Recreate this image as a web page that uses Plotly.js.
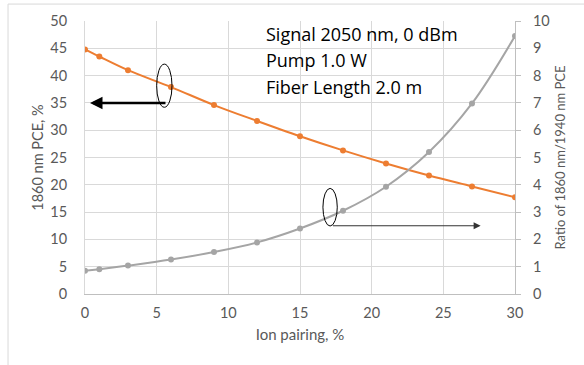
<!DOCTYPE html>
<html>
<head>
<meta charset="utf-8">
<script src="https://cdn.plot.ly/plotly-3.0.1.min.js"></script>
<style>html,body{margin:0;padding:0;background:#fff}#chart{width:584px;height:365px}</style>
</head>
<body>
<div id="chart"></div>
<script>
var ionPairing = [0, 1, 3, 6, 9, 12, 15, 18, 21, 24, 27, 30];
var pce1860 = [44.8, 43.5, 41.0, 37.9, 34.6, 31.7, 28.9, 26.3, 23.9, 21.7, 19.7, 17.7];
var ratio = [0.85, 0.91, 1.04, 1.26, 1.54, 1.89, 2.4, 3.05, 3.93, 5.2, 6.98, 9.45];
var xTicks = [0, 5, 10, 15, 20, 25, 30];
var noteLines = ["Signal 2050 nm, 0 dBm", "Pump 1.0 W", "Fiber Length 2.0 m"];

var fontFam = "Lato, 'Open Sans', sans-serif";
var tickGray = "#595959";

var traces = [
  {x: ionPairing, y: pce1860, type: "scatter", mode: "lines+markers",
   line: {color: "#ED7D31", width: 2, shape: "spline"},
   marker: {color: "#ED7D31", size: 6}, yaxis: "y", hoverinfo: "x+y"},
  {x: ionPairing, y: ratio, type: "scatter", mode: "lines+markers",
   line: {color: "#A5A5A5", width: 2, shape: "spline"},
   marker: {color: "#A5A5A5", size: 6}, yaxis: "y2", hoverinfo: "x+y"}
];

var annotations = noteLines.map(function (t, i) {
  return {text: t, xref: "paper", yref: "paper", x: 0.416, y: 0.953 - i * 0.097,
    xanchor: "left", yanchor: "middle", showarrow: false,
    font: {family: "'Open Sans', sans-serif", size: 18, color: "#000"}};
});
annotations.push({x: 0.35, y: 35, ax: 5.72, ay: 35, xref: "x", yref: "y", axref: "x", ayref: "y",
  showarrow: true, arrowhead: 2, arrowsize: 1, arrowwidth: 2.5, arrowcolor: "#000", text: ""});
annotations.push({x: 27.6, y: 2.5, ax: 17.2, ay: 2.5, xref: "x", yref: "y2", axref: "x", ayref: "y2",
  showarrow: true, arrowhead: 2, arrowsize: 1.4, arrowwidth: 1, arrowcolor: "#333", text: ""});

var layout = {
  width: 584, height: 365,
  margin: {l: 85, r: 69, t: 21, b: 71},
  paper_bgcolor: "#fff", plot_bgcolor: "#fff",
  showlegend: false,
  font: {family: fontFam, color: tickGray},
  xaxis: {range: [0, 30], tickvals: xTicks, showgrid: true, gridcolor: "#d9d9d9",
    zeroline: false, showline: true, linecolor: "#bfbfbf", linewidth: 1,
    ticks: "outside", ticklen: 6, tickcolor: "rgba(0,0,0,0)",
    tickfont: {size: 14.5, color: tickGray},
    title: {text: "Ion pairing, %", font: {size: 15, color: tickGray}, standoff: 9}},
  yaxis: {range: [0, 50], dtick: 5, showgrid: true, gridcolor: "#d9d9d9",
    zeroline: false, showline: true, linecolor: "#d9d9d9",
    ticks: "outside", ticklen: 14, tickcolor: "rgba(0,0,0,0)",
    tickfont: {size: 14.5, color: tickGray},
    title: {text: "1860 nm PCE, %", font: {size: 14.5, color: tickGray}, standoff: 3}},
  yaxis2: {range: [0, 10], dtick: 1, overlaying: "y", side: "right", showgrid: false,
    zeroline: false, showline: true, linecolor: "#bfbfbf",
    ticks: "outside", ticklen: 5, tickcolor: "#bfbfbf",
    ticklabelstandoff: 9,
    tickfont: {size: 14.5, color: tickGray},
    title: {text: "Ratio of 1860 nm/1940 nm PCE", font: {size: 13, color: tickGray}, standoff: 7}},
  annotations: annotations,
  shapes: [
    {type: "circle", xref: "x", yref: "y", x0: 5.0, x1: 6.07, y0: 34.2, y1: 42.1,
     line: {color: "#000", width: 1}},
    {type: "circle", xref: "x", yref: "y2", x0: 16.6, x1: 17.6, y0: 2.49, y1: 3.87,
     line: {color: "#000", width: 1}},
    {type: "rect", xref: "paper", yref: "paper", x0: -0.179, x1: 1.3, y0: -0.3, y1: 1.062,
     line: {color: "#d9d9d9", width: 1}, layer: "below"}
  ]
};

Plotly.newPlot("chart", traces, layout, {displayModeBar: false, staticPlot: true});
</script>
</body>
</html>
